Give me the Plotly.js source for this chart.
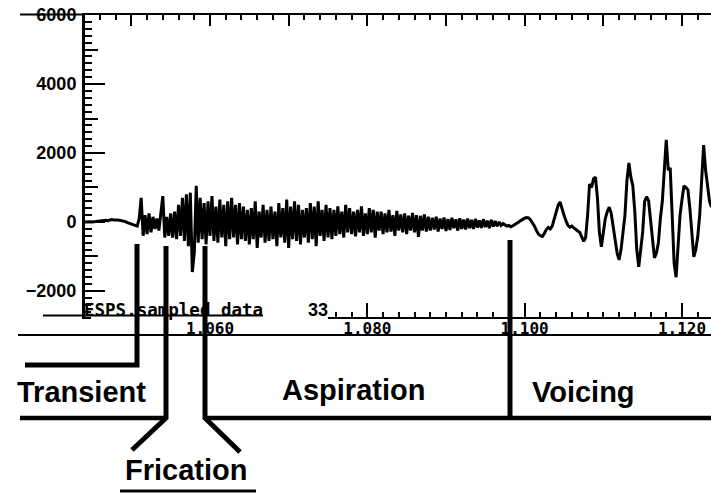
<!DOCTYPE html>
<html>
<head>
<meta charset="utf-8">
<script src="https://cdn.plot.ly/plotly-3.0.1.min.js"></script>
<style>
html,body{margin:0;padding:0;background:#fff;overflow:hidden;}
#chart{width:716px;height:493px;}
</style>
</head>
<body>
<div id="chart"></div>
<script>
// ---- data (sampled waveform) ----
const T0 = 1.0440;      // time of first sample (s)
const DT = 0.00025;     // sample spacing (s)
const quiet = [0,10,20,10,0,10,20,30,20,30,40,50,40,60,70,60,70,60,50,40,30,10,-20,-40,-60,-80,-100];
const burst = [-120,100,700,-400,200,-350,250,-300,150,-200,100,-250,300,750,-450];
const frication = [150,-400,250,-450,300,
  -500,500,-400,700,-550,800,-700,
  850,-1450,-900,1050,-600,
  700,-500,550,-650,600,-400,750,-550,450,-600,650,-450,500,-700,600,-500,700,-450,500,-650,550,-500];
const aspiration = [450,-550,350,-650,400,-500,600,-750,300,-450,500,-600,350,-550,450,-500,300,-700,550,-450,
  400,-600,650,-750,450,-500,600,-550,500,-650,350,-450,400,-600,550,-500,450,-700,600,-400,350,-550,500,-450,400,
  -500,350,-400,450,-350,300,-450,500,-300,400,-350,300,-420,350,-300,450,-400,250,-350,400,-300,350,-450,300,-250,
  300,-350,250,-300,350,-280,200,-400,320,-250,220,-300,250,-350,180,-250,260,-300,200,-430,180,-250,220,-280,150,
  -250,120,-220,150,-280,100,-200,130,-260,90,-230,120,-180,80,-250,110,-200,70,-220,100,-180,60,-200,90,-160,
  50,-170,80,-150,40,-180,60,-130,30,-120,0,-100,-50,-80];
const voicing = [-120,-100,-140,-110,-80,-40,0,40,80,110,
  130,120,60,-20,-120,-250,-350,-400,-420,-330,
  -220,-160,-200,-120,100,300,480,580,420,200,
  30,-100,-150,-120,-170,-230,-260,-300,-420,-560,
  -450,200,1100,1000,1250,1300,700,-300,-720,-300,
  100,300,430,250,-100,-450,-900,-1100,-800,-300,
  200,1200,1710,1300,1050,300,-800,-1300,-800,-300,
  600,730,620,100,-400,-1040,-900,-600,100,600,
  1500,2380,1500,1570,200,-1200,-1600,-600,200,650,
  1050,1000,930,400,-200,-1010,-800,-430,200,1200,
  2230,1500,1010,600,430];

const xRange = [1.04411, 1.123941];
const yRange = [-2754, 6000];
const segmentLabels = ["Transient", "Aspiration", "Voicing", "Frication"];
const fileLabel = "ESPS.sampled data";
const channelLabel = "33";

const amplitude = quiet.concat(burst, frication, aspiration, voicing);
const time = amplitude.map((_, i) => +(T0 + i * DT).toFixed(5));

// pixel helpers for layout (plot area: x 85..713, y 15..317)
const px = x => (x - 85) / 628;
const py = y => (317 - y) / 302;

const BLACK = '#000';
function seg(x0, y0, x1, y1, w) {
  return {type: 'line', xref: 'paper', yref: 'paper', x0: px(x0), y0: py(y0), x1: px(x1), y1: py(y1),
          line: {color: BLACK, width: w}, layer: 'above'};
}
function path(pts, w) {
  const d = pts.map((p, i) => (i ? 'L' : 'M') + px(p[0]).toFixed(5) + ',' + py(p[1]).toFixed(5)).join(' ');
  return {type: 'path', xref: 'paper', yref: 'paper', path: d, line: {color: BLACK, width: w}, layer: 'above'};
}

const traces = [
  {type: 'scatter', mode: 'lines', x: time, y: amplitude, line: {color: BLACK, width: 3}, hoverinfo: 'skip'},
  {type: 'scatter', mode: 'lines', x: [], y: [], xaxis: 'x2', yaxis: 'y2', hoverinfo: 'skip'},
  {type: 'scatter', mode: 'lines', x: [], y: [], xaxis: 'x3', yaxis: 'y2', hoverinfo: 'skip'},
  {type: 'scatter', mode: 'lines', x: [], y: [], xaxis: 'x4', yaxis: 'y2', hoverinfo: 'skip'}
];

const bigFont = {family: 'Liberation Sans, Arial, sans-serif', size: 29, color: BLACK, weight: 'bold'};
const monoFont = 'DejaVu Sans Mono, Liberation Mono, monospace';

function tickAxis(side, dtick, len) {
  return {overlaying: 'x', anchor: 'y2', side: side, range: xRange, tick0: 1.06, dtick: dtick,
          ticks: 'inside', ticklen: len, tickwidth: 2, tickcolor: BLACK,
          showline: false, showticklabels: false, showgrid: false, zeroline: false, fixedrange: true};
}

const layout = {
  width: 716, height: 493,
  margin: {l: 85, r: 3, t: 15, b: 176, pad: 0},
  paper_bgcolor: '#fff', plot_bgcolor: '#fff',
  showlegend: false,
  font: {family: 'Liberation Sans, Arial, sans-serif', color: BLACK},
  xaxis: {
    range: xRange, tick0: 1.06, dtick: 0.02, tickformat: '.3f',
    ticks: 'inside', ticklen: 14, tickwidth: 2, tickcolor: BLACK,
    showline: true, linecolor: BLACK, linewidth: 2,
    showgrid: false, zeroline: false, ticklabelstandoff: -4,
    tickfont: {family: monoFont, size: 16, color: BLACK, weight: 'bold'},
    fixedrange: true
  },
  xaxis2: Object.assign(tickAxis('top', 0.01, 11), {showline: true, linewidth: 2, linecolor: BLACK}),
  xaxis3: tickAxis('bottom', 0.002, 5),
  xaxis4: tickAxis('top', 0.002, 5),
  yaxis: {
    range: yRange, tick0: 0, dtick: 2000, tickformat: 'd',
    ticks: 'inside', ticklen: 20, tickwidth: 2, tickcolor: BLACK,
    showline: true, linewidth: 3, linecolor: BLACK, mirror: false,
    showgrid: false, zeroline: false, ticklabelstandoff: 2,
    tickfont: {family: 'Liberation Sans, Arial, sans-serif', size: 18, color: BLACK, weight: 'bold'},
    minor: {tick0: 0, dtick: 200, ticks: 'inside', ticklen: 7, tickwidth: 2, tickcolor: BLACK, showgrid: false},
    fixedrange: true
  },
  yaxis2: {
    overlaying: 'y', anchor: 'x2', side: 'left', range: yRange, tick0: 0, dtick: 1000,
    ticks: 'inside', ticklen: 13, tickwidth: 2, tickcolor: BLACK,
    showline: false, showticklabels: false, showgrid: false, zeroline: false, fixedrange: true
  },
  shapes: [
    // cover the left part of the lower time scale (the file label sits there)
    {type: 'rect', xref: 'paper', yref: 'paper', x0: px(91), x1: px(328), y0: py(319.5), y1: py(299),
     fillcolor: '#fff', line: {width: 0}, layer: 'above'},
    seg(20, 14.5, 84, 14.5, 2),          // line through the 6000 label
    seg(43, 315.5, 263, 315.5, 2),       // underline of file label
    seg(18, 335, 716, 335, 2),           // line under the time labels
    path([[25, 365], [137, 365], [137, 244]], 5),          // Transient
    path([[132, 450], [166, 418], [166, 246]], 5),         // Frication left
    path([[240, 452], [205, 418], [205, 246]], 5),         // Frication right
    seg(20, 418, 166, 418, 4.5),
    seg(205, 418, 716, 418, 4.5),
    seg(510, 240, 510, 420, 5),          // Voicing boundary
    seg(120, 491, 256, 491, 3)           // Frication underline
  ],
  annotations: [
    {xref: 'paper', yref: 'paper', x: px(82), y: py(309.5), xanchor: 'left', yanchor: 'middle', showarrow: false,
     text: fileLabel, font: {family: monoFont, size: 17.5, color: BLACK, weight: 'bold'}},
    {xref: 'paper', yref: 'paper', x: px(318), y: py(310), xanchor: 'center', yanchor: 'middle', showarrow: false,
     text: channelLabel, font: {family: 'Liberation Sans, Arial, sans-serif', size: 18, color: BLACK, weight: 'bold'}},
    {xref: 'paper', yref: 'paper', x: px(81), y: py(392), xanchor: 'center', yanchor: 'middle', showarrow: false,
     text: segmentLabels[0], font: bigFont},
    {xref: 'paper', yref: 'paper', x: px(353), y: py(390), xanchor: 'center', yanchor: 'middle', showarrow: false,
     text: segmentLabels[1], font: bigFont},
    {xref: 'paper', yref: 'paper', x: px(583), y: py(392), xanchor: 'center', yanchor: 'middle', showarrow: false,
     text: segmentLabels[2], font: bigFont},
    {xref: 'paper', yref: 'paper', x: px(186), y: py(470), xanchor: 'center', yanchor: 'middle', showarrow: false,
     text: segmentLabels[3], font: bigFont}
  ]
};

Plotly.newPlot('chart', traces, layout, {staticPlot: true, displayModeBar: false});
</script>
</body>
</html>
